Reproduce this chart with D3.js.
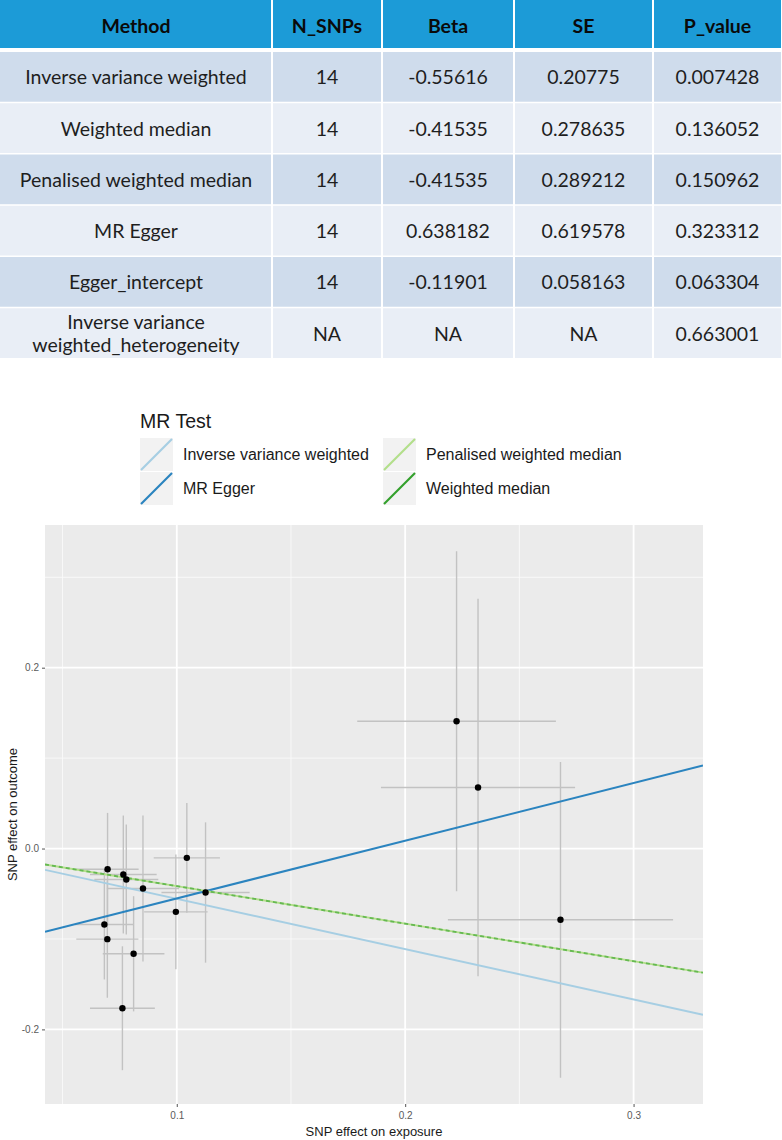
<!DOCTYPE html>
<html>
<head>
<meta charset="utf-8">
<script src="https://cdn.jsdelivr.net/npm/d3@7/dist/d3.min.js"></script>
<style>
  html, body { margin: 0; padding: 0; background: #ffffff; }
  svg { display: block; }
</style>
</head>
<body>
<svg id="chart" width="782" height="1140"></svg>
<script>
// ---------------- DATA ----------------
const tableColumns = ["Method", "N_SNPs", "Beta", "SE", "P_value"];
const tableMethods = ["Inverse variance weighted", "Weighted median", "Penalised weighted median",
  "MR Egger", "Egger_intercept", "Inverse variance\nweighted_heterogeneity"];
const tableNSNPs = ["14", "14", "14", "14", "14", "NA"];
const tableBeta = ["-0.55616", "-0.41535", "-0.41535", "0.638182", "-0.11901", "NA"];
const tableSE = ["0.20775", "0.278635", "0.289212", "0.619578", "0.058163", "NA"];
const tablePvalue = ["0.007428", "0.136052", "0.150962", "0.323312", "0.063304", "0.663001"];

const legendTitle = "MR Test";
const methods = ["Inverse variance weighted", "MR Egger", "Penalised weighted median", "Weighted median"];
const methodSlopes = [-0.55616, 0.638182, -0.41535, -0.41535];
const methodIntercepts = [0, -0.11901, 0, 0];

const snpBetaExposure = [0.0697, 0.0766, 0.0779, 0.0852, 0.1044, 0.0996, 0.1126, 0.0683, 0.0696, 0.0811, 0.0762, 0.2225, 0.2319, 0.2680];
const snpSeExposure   = [0.0136, 0.0146, 0.0140, 0.0158, 0.0145, 0.0139, 0.0193, 0.0129, 0.0136, 0.0135, 0.0142, 0.0435, 0.0425, 0.0493];
const snpBetaOutcome  = [-0.0229, -0.0287, -0.0343, -0.0442, -0.0103, -0.0700, -0.0486, -0.0840, -0.1002, -0.1164, -0.1766, 0.1407, 0.0675, -0.0788];
const snpSeOutcome    = [0.0623, 0.0652, 0.0608, 0.0807, 0.0608, 0.0634, 0.0776, 0.0608, 0.0648, 0.0637, 0.0685, 0.1880, 0.2087, 0.1746];

const xTickValues = [0.1, 0.2, 0.3];
const xTickLabels = ["0.1", "0.2", "0.3"];
const xMinorValues = [0.05, 0.15, 0.25];
const yTickValues = [-0.2, 0.0, 0.2];
const yTickLabels = ["-0.2", "0.0", "0.2"];
const yMinorValues = [-0.3, -0.1, 0.1, 0.3];
const xTitle = "SNP effect on exposure";
const yTitle = "SNP effect on outcome";

// ---------------- STYLE ----------------
const methodColor = d3.scaleOrdinal().domain(methods)
  .range(["#a6cee3", "#2b84bf", "#b2df8a", "#33a02c"]);
const plotFont = "'Liberation Sans', Arial, sans-serif";
const tableFont = "Lato, 'Open Sans', sans-serif";

const svg = d3.select("#chart");

// ---------------- TABLE ----------------
const colEdges = [0, 272, 382, 514, 653, 782];
const rowBand = d3.scaleBand().domain(d3.range(tableMethods.length)).range([52, 358]).paddingInner(0.03);

const tableG = svg.append("g");
tableColumns.forEach((c, ci) => {
  const x0 = colEdges[ci], x1 = colEdges[ci + 1];
  tableG.append("rect").attr("x", x0 + (ci ? 1 : 0)).attr("y", 0)
    .attr("width", x1 - x0 - (ci ? 2 : 1)).attr("height", 48).attr("fill", "#1c9bd7");
  tableG.append("text").attr("x", (x0 + x1) / 2).attr("y", 25)
    .attr("text-anchor", "middle").attr("dominant-baseline", "central")
    .attr("font-family", tableFont).attr("font-weight", "bold").attr("font-size", 19.5)
    .attr("fill", "#0a0a0a").text(c);
});
const tableRows = tableMethods.map((m, i) => [m, tableNSNPs[i], tableBeta[i], tableSE[i], tablePvalue[i]]);
tableRows.forEach((row, ri) => {
  const y0 = rowBand(ri), h = rowBand.bandwidth();
  row.forEach((val, ci) => {
    const x0 = colEdges[ci], x1 = colEdges[ci + 1];
    tableG.append("rect").attr("x", x0 + (ci ? 1 : 0)).attr("y", y0)
      .attr("width", x1 - x0 - (ci ? 2 : 1)).attr("height", h)
      .attr("fill", ri % 2 === 0 ? "#cfdcec" : "#e9eef6");
    const lines = val.split("\n");
    const t = tableG.append("text").attr("text-anchor", "middle")
      .attr("font-family", tableFont).attr("font-size", 19.5).attr("fill", "#1e1e1e");
    lines.forEach((ln, li) => {
      t.append("tspan").attr("x", (x0 + x1) / 2)
        .attr("y", y0 + h / 2 + (li - (lines.length - 1) / 2) * 23)
        .attr("dominant-baseline", "central").text(ln);
    });
  });
});

// ---------------- LEGEND ----------------
const legG = svg.append("g").attr("font-family", plotFont);
legG.append("text").attr("x", 140).attr("y", 428).attr("font-size", 19.5)
  .attr("fill", "#1a1a1a").text(legendTitle);
const keySize = 33;
const legendPos = [[140, 438], [140, 472], [383, 438], [383, 472]];
methods.forEach((m, i) => {
  const [kx, ky] = legendPos[i];
  legG.append("rect").attr("x", kx).attr("y", ky).attr("width", keySize).attr("height", keySize)
    .attr("fill", "#f2f2f2");
  legG.append("line").attr("x1", kx + 1).attr("y1", ky + keySize - 1)
    .attr("x2", kx + keySize - 1).attr("y2", ky + 1)
    .attr("stroke", methodColor(m)).attr("stroke-width", 2.2);
  legG.append("text").attr("x", kx + 43).attr("y", ky + keySize / 2)
    .attr("dominant-baseline", "central").attr("font-size", 16).attr("fill", "#1a1a1a").text(m);
});

// ---------------- SCATTER PLOT ----------------
const panel = { left: 45, right: 703, top: 525, bottom: 1104 };
function expand(ext, f) { const r = ext[1] - ext[0]; return [ext[0] - r * f, ext[1] + r * f]; }
const xExt = [d3.min(snpBetaExposure.map((v, i) => v - snpSeExposure[i])),
              d3.max(snpBetaExposure.map((v, i) => v + snpSeExposure[i]))];
const yExt = [d3.min(snpBetaOutcome.map((v, i) => v - snpSeOutcome[i])),
              d3.max(snpBetaOutcome.map((v, i) => v + snpSeOutcome[i]))];
const x = d3.scaleLinear().domain(expand(xExt, 0.05)).range([panel.left, panel.right]);
const y = d3.scaleLinear().domain(expand(yExt, 0.05)).range([panel.bottom, panel.top]);

const plotG = svg.append("g");
svg.append("clipPath").attr("id", "panelClip").append("rect")
  .attr("x", panel.left).attr("y", panel.top)
  .attr("width", panel.right - panel.left).attr("height", panel.bottom - panel.top);

plotG.append("rect").attr("x", panel.left).attr("y", panel.top)
  .attr("width", panel.right - panel.left).attr("height", panel.bottom - panel.top)
  .attr("fill", "#ebebeb");

const grid = plotG.append("g").attr("clip-path", "url(#panelClip)");
grid.selectAll("line.xminor").data(xMinorValues).join("line")
  .attr("x1", d => x(d)).attr("x2", d => x(d)).attr("y1", panel.top).attr("y2", panel.bottom)
  .attr("stroke", "#fafafa").attr("stroke-width", 0.9);
grid.selectAll("line.yminor").data(yMinorValues).join("line")
  .attr("y1", d => y(d)).attr("y2", d => y(d)).attr("x1", panel.left).attr("x2", panel.right)
  .attr("stroke", "#fafafa").attr("stroke-width", 0.9);
grid.selectAll("line.xmajor").data(xTickValues).join("line")
  .attr("x1", d => x(d)).attr("x2", d => x(d)).attr("y1", panel.top).attr("y2", panel.bottom)
  .attr("stroke", "#ffffff").attr("stroke-width", 1.8);
grid.selectAll("line.ymajor").data(yTickValues).join("line")
  .attr("y1", d => y(d)).attr("y2", d => y(d)).attr("x1", panel.left).attr("x2", panel.right)
  .attr("stroke", "#ffffff").attr("stroke-width", 1.8);

const marks = plotG.append("g").attr("clip-path", "url(#panelClip)");
const snps = snpBetaExposure.map((bx, i) => ({ bx, sx: snpSeExposure[i], by: snpBetaOutcome[i], sy: snpSeOutcome[i] }));
marks.selectAll("line.ev").data(snps).join("line")
  .attr("x1", d => x(d.bx)).attr("x2", d => x(d.bx))
  .attr("y1", d => y(d.by - d.sy)).attr("y2", d => y(d.by + d.sy))
  .attr("stroke", "#c2c2c2").attr("stroke-width", 1.4);
marks.selectAll("line.eh").data(snps).join("line")
  .attr("y1", d => y(d.by)).attr("y2", d => y(d.by))
  .attr("x1", d => x(d.bx - d.sx)).attr("x2", d => x(d.bx + d.sx))
  .attr("stroke", "#c2c2c2").attr("stroke-width", 1.4);

// regression lines
const xd = x.domain();
const lineData = methods.map((m, i) => ({ m, a: methodIntercepts[i], b: methodSlopes[i] }));
marks.selectAll("line.fit").data(lineData).join("line")
  .attr("x1", x(xd[0])).attr("x2", x(xd[1]))
  .attr("y1", d => y(d.a + d.b * xd[0])).attr("y2", d => y(d.a + d.b * xd[1]))
  .attr("stroke", d => methodColor(d.m))
  .attr("stroke-opacity", d => d.m === "Weighted median" ? 0.6 : 1)
  .attr("stroke-width", d => d.m === "MR Egger" ? 2.1 : 1.9)
  .attr("stroke-dasharray", d => d.m === "Weighted median" ? "4,3" : null);

marks.selectAll("circle.pt").data(snps).join("circle")
  .attr("cx", d => x(d.bx)).attr("cy", d => y(d.by)).attr("r", 3.2).attr("fill", "#000000");

// axes
const xAxis = d3.axisBottom(x).tickValues(xTickValues).tickFormat((d, i) => xTickLabels[i])
  .tickSizeInner(3).tickSizeOuter(0).tickPadding(5);
const yAxis = d3.axisLeft(y).tickValues(yTickValues).tickFormat((d, i) => yTickLabels[i])
  .tickSizeInner(3).tickSizeOuter(0).tickPadding(3);
const gx = plotG.append("g").attr("transform", `translate(0,${panel.bottom})`).call(xAxis);
const gy = plotG.append("g").attr("transform", `translate(${panel.left},0)`).call(yAxis);
[gx, gy].forEach(g => {
  g.select(".domain").remove();
  g.selectAll(".tick line").attr("stroke", "#555555").attr("stroke-width", 1);
  g.selectAll(".tick text").attr("font-family", plotFont).attr("font-size", 10).attr("fill", "#5a5a5a");
});

plotG.append("text").attr("x", (panel.left + panel.right) / 2).attr("y", 1131)
  .attr("text-anchor", "middle").attr("dominant-baseline", "central")
  .attr("font-family", plotFont).attr("font-size", 13).attr("fill", "#1a1a1a").text(xTitle);
plotG.append("text")
  .attr("transform", `translate(12,${(panel.top + panel.bottom) / 2}) rotate(-90)`)
  .attr("text-anchor", "middle").attr("dominant-baseline", "central")
  .attr("font-family", plotFont).attr("font-size", 13).attr("fill", "#1a1a1a").text(yTitle);
</script>
</body>
</html>
